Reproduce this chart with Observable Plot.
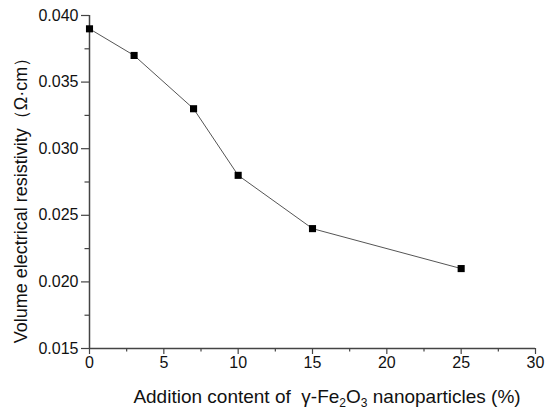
<!DOCTYPE html>
<html><head><meta charset="utf-8">
<script src="https://cdn.jsdelivr.net/npm/d3@7"></script>
<script src="https://cdn.jsdelivr.net/npm/@observablehq/plot@0.6"></script>
<style>body{margin:0;background:#fff;} svg{display:block;}</style>
</head><body>
<div id="chart"></div>
<script>
const content = [0, 3, 7, 10, 15, 25];
const resistivity = [0.039, 0.037, 0.033, 0.028, 0.024, 0.021];
const xTicks = [0, 5, 10, 15, 20, 25, 30];
const xMinor = [2.5, 7.5, 12.5, 17.5, 22.5, 27.5];
const yTicks = [0.015, 0.020, 0.025, 0.030, 0.035, 0.040];
const yMinor = [0.0175, 0.0225, 0.0275, 0.0325, 0.0375];

const data = content.map((x, i) => ({x, y: resistivity[i]}));
const axisColor = "#444";

const plot = Plot.plot({
  width: 545, height: 412,
  marginLeft: 89, marginRight: 10, marginTop: 15, marginBottom: 64,
  style: {fontFamily: "Liberation Sans, Arial, sans-serif", fontSize: "16px", color: "#111", background: "#fff"},
  x: {domain: [0, 30]},
  y: {domain: [0.015, 0.040]},
  marks: [
    Plot.ruleX([0], {stroke: axisColor, strokeWidth: 1.5}),
    Plot.ruleY([0.015], {stroke: axisColor, strokeWidth: 1.5}),
    Plot.axisX({ticks: xTicks, tickSize: 6, tickPadding: 2, tickFormat: d => String(d), label: null, stroke: axisColor, strokeWidth: 1.2, fontSize: 16}),
    Plot.axisX({ticks: xMinor, tickSize: 3.5, tickFormat: null, text: null, label: null, stroke: axisColor, strokeWidth: 1.2}),
    Plot.axisY({ticks: yTicks, tickSize: 8, tickPadding: 3, tickFormat: d3.format(".3f"), label: null, stroke: axisColor, strokeWidth: 1.2, fontSize: 16}),
    Plot.axisY({ticks: yMinor, tickSize: 4.5, tickFormat: null, text: null, label: null, stroke: axisColor, strokeWidth: 1.2}),
    Plot.line(data, {x: "x", y: "y", stroke: "#555", strokeWidth: 1}),
    Plot.dot(data, {x: "x", y: "y", symbol: "square", r: 4, fill: "#000", stroke: "none"})
  ]
});
document.getElementById("chart").appendChild(plot);

const svg = d3.select(plot);
const xl = svg.append("text")
  .attr("x", 327).attr("y", 403)
  .attr("text-anchor", "middle")
  .attr("font-size", 19).attr("fill", "#111");
xl.append("tspan").text("Addition content of  γ-Fe");
xl.append("tspan").attr("font-size", 12).attr("dy", 4).text("2");
xl.append("tspan").attr("dy", -4).text("O");
xl.append("tspan").attr("font-size", 12).attr("dy", 4).text("3");
xl.append("tspan").attr("dy", -4).text(" nanoparticles (%)");

svg.append("text")
  .attr("transform", "translate(27,196) rotate(-90)")
  .attr("text-anchor", "middle")
  .attr("font-size", 18).attr("fill", "#111")
  .text("Volume electrical resistivity（Ω·cm）");
</script>
</body></html>
